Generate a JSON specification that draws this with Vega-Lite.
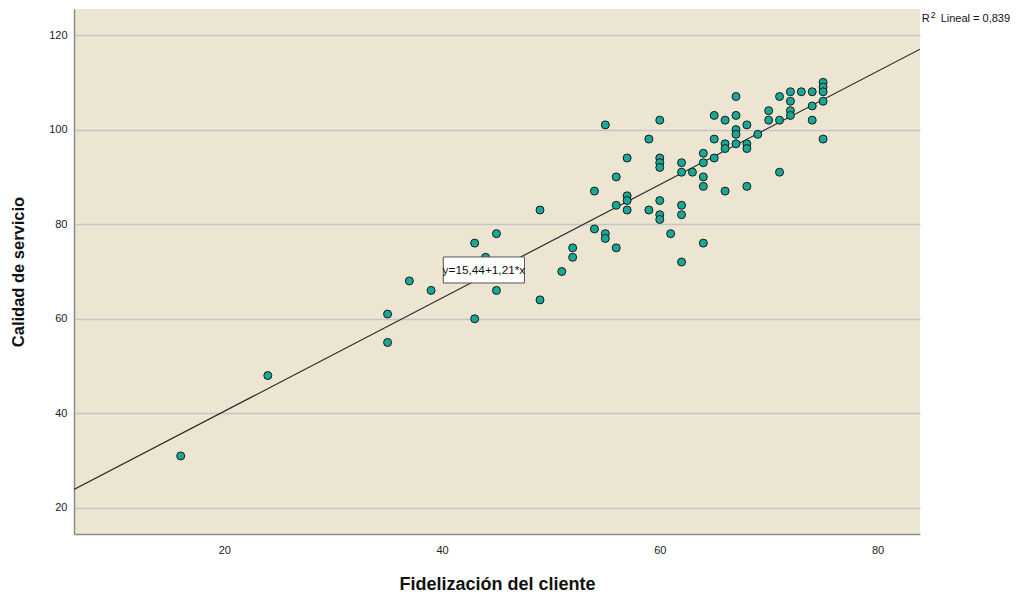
{
  "$schema": "https://vega.github.io/schema/vega-lite/v6.json",
  "width": 846,
  "height": 525,
  "autosize": {"type": "none"},
  "padding": {"left": 74, "top": 9, "right": 109, "bottom": 62},
  "background": "#ffffff",
  "config": {
    "view": {"fill": "#ECE5D2", "stroke": null},
    "font": "Liberation Sans",
    "axis": {
      "labelFont": "Liberation Sans",
      "titleFont": "Liberation Sans",
      "labelFontSize": 11,
      "labelColor": "#222222",
      "titleColor": "#111111",
      "titleFontWeight": "bold",
      "ticks": false,
      "domainColor": "#8c8c8c",
      "domainWidth": 1.5
    }
  },
  "layer": [
    {
      "data": {
        "values": [
          {"x": 16, "y": 31}, {"x": 24, "y": 48}, {"x": 35, "y": 61}, {"x": 35, "y": 55},
          {"x": 37, "y": 68}, {"x": 39, "y": 66}, {"x": 43, "y": 76}, {"x": 43, "y": 60},
          {"x": 44, "y": 73}, {"x": 45, "y": 78}, {"x": 45, "y": 66}, {"x": 49, "y": 83},
          {"x": 49, "y": 64}, {"x": 51, "y": 70}, {"x": 52, "y": 75}, {"x": 52, "y": 73},
          {"x": 54, "y": 87}, {"x": 54, "y": 79}, {"x": 55, "y": 101}, {"x": 55, "y": 78},
          {"x": 55, "y": 77}, {"x": 56, "y": 90}, {"x": 56, "y": 84}, {"x": 56, "y": 75},
          {"x": 57, "y": 94}, {"x": 57, "y": 86}, {"x": 57, "y": 85}, {"x": 57, "y": 83},
          {"x": 59, "y": 83}, {"x": 59, "y": 98}, {"x": 60, "y": 102}, {"x": 60, "y": 94},
          {"x": 60, "y": 93}, {"x": 60, "y": 92}, {"x": 60, "y": 85}, {"x": 60, "y": 82},
          {"x": 60, "y": 81}, {"x": 61, "y": 78}, {"x": 62, "y": 93}, {"x": 62, "y": 91},
          {"x": 62, "y": 84}, {"x": 62, "y": 82}, {"x": 62, "y": 72}, {"x": 63, "y": 91},
          {"x": 64, "y": 95}, {"x": 64, "y": 93}, {"x": 64, "y": 90}, {"x": 64, "y": 88},
          {"x": 64, "y": 76}, {"x": 65, "y": 103}, {"x": 65, "y": 98}, {"x": 65, "y": 94},
          {"x": 66, "y": 102}, {"x": 66, "y": 97}, {"x": 66, "y": 96}, {"x": 66, "y": 87},
          {"x": 67, "y": 107}, {"x": 67, "y": 103}, {"x": 67, "y": 100}, {"x": 67, "y": 99},
          {"x": 67, "y": 97}, {"x": 68, "y": 101}, {"x": 68, "y": 97}, {"x": 68, "y": 96},
          {"x": 68, "y": 88}, {"x": 69, "y": 99}, {"x": 70, "y": 104}, {"x": 70, "y": 102},
          {"x": 71, "y": 107}, {"x": 71, "y": 102}, {"x": 71, "y": 91}, {"x": 72, "y": 108},
          {"x": 72, "y": 106}, {"x": 72, "y": 104}, {"x": 72, "y": 103}, {"x": 73, "y": 108},
          {"x": 74, "y": 108}, {"x": 74, "y": 105}, {"x": 74, "y": 102}, {"x": 75, "y": 110},
          {"x": 75, "y": 109}, {"x": 75, "y": 108}, {"x": 75, "y": 106}, {"x": 75, "y": 98}
        ]
      },
      "encoding": {
        "x": {
          "field": "x", "type": "quantitative",
          "scale": {"domain": [6.2, 83.9], "nice": false, "zero": false},
          "axis": {"values": [20, 40, 60, 80], "grid": false, "title": "Fidelización del cliente", "titleFontSize": 18, "labelPadding": 10, "titlePadding": 20}
        },
        "y": {
          "field": "y", "type": "quantitative",
          "scale": {"domain": [14.5, 125.5], "nice": false, "zero": false},
          "axis": {"values": [20, 40, 60, 80, 100, 120], "grid": true, "gridColor": "#c6c6c6", "gridWidth": 1.5, "title": "Calidad de servicio", "titleFontSize": 16.5, "labelPadding": 7, "titlePadding": 22}
        }
      },
      "layer": [
        {
          "mark": {"type": "line", "color": "#2a2a2a", "strokeWidth": 1.2, "clip": true},
          "transform": [{"regression": "y", "on": "x", "extent": [6.2, 83.9]}]
        },
        {
          "mark": {"type": "point", "filled": true, "fill": "#17A898", "stroke": "#1a1a1a", "strokeWidth": 1, "size": 64, "opacity": 1}
        }
      ]
    },
    {
      "data": {"values": [{"label": "y=15,44+1,21*x"}]},
      "layer": [
        {
          "mark": {"type": "rect", "fill": "#ffffff", "stroke": "#555555", "strokeWidth": 1},
          "encoding": {
            "x": {"datum": 40.12, "type": "quantitative"},
            "x2": {"datum": 47.57},
            "y": {"datum": 67.57, "type": "quantitative"},
            "y2": {"datum": 73.07}
          }
        },
        {
          "mark": {"type": "text", "fontSize": 11.8, "color": "#111111", "font": "Liberation Sans"},
          "encoding": {
            "x": {"datum": 43.85, "type": "quantitative"},
            "y": {"datum": 70.3, "type": "quantitative"},
            "text": {"field": "label"}
          }
        }
      ]
    },
    {
      "data": {"values": [{"r": "R", "sup": "2", "rest": "Lineal = 0,839"}]},
      "encoding": {
        "x": {"datum": 84.05, "type": "quantitative"},
        "y": {"datum": 123.4, "type": "quantitative"}
      },
      "layer": [
        {
          "mark": {"type": "text", "fontSize": 11, "align": "left", "color": "#111111", "font": "Liberation Sans", "clip": false},
          "encoding": {"text": {"field": "r"}}
        },
        {
          "mark": {"type": "text", "fontSize": 9, "align": "left", "dx": 9, "dy": -4, "color": "#111111", "font": "Liberation Sans", "clip": false},
          "encoding": {"text": {"field": "sup"}}
        },
        {
          "mark": {"type": "text", "fontSize": 11, "align": "left", "dx": 19, "color": "#111111", "font": "Liberation Sans", "clip": false},
          "encoding": {"text": {"field": "rest"}}
        }
      ]
    }
  ]
}
